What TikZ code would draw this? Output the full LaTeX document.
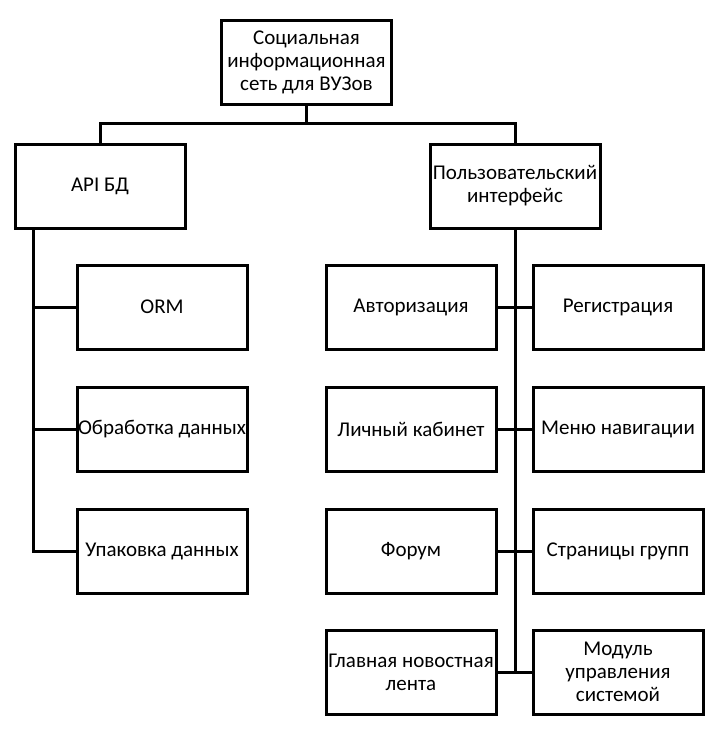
\documentclass[tikz,border=0pt]{standalone}
\usepackage{fontspec}
\setmainfont{Carlito}
\begin{document}
\begin{tikzpicture}[x=1pt,y=-1pt,
  box/.style={draw=black,line width=3pt,minimum width=170pt,minimum height=84pt,inner sep=0pt,align=center,font=\fontsize{21}{23}\selectfont},
  conn/.style={draw=black,line width=3pt}]
\useasboundingbox (0,0) rectangle (721,740);
\node[box] (top) at (306.5,62) {Социальная\\информационная\\сеть для ВУЗов};
\node[box] (api) at (100,186) {API БД};
\node[box] (ui) at (515,186) {Пользовательский\\интерфейс};
\node[box] (orm) at (162,307) {ORM};
\node[box] (obr) at (162,429) {Обработка данных};
\node[box] (upak) at (162,551) {Упаковка данных};
\node[box] (avt) at (411,307) {Авторизация};
\node[box] (reg) at (618,307) {Регистрация};
\node[box] (lk) at (411,429) {Личный кабинет};
\node[box] (menu) at (618,429) {Меню навигации};
\node[box] (forum) at (411,551) {Форум};
\node[box] (str) at (618,551) {Страницы групп};
\node[box] (glav) at (411,672) {Главная новостная\\лента};
\node[box] (mod) at (618,672) {Модуль\\управления\\системой};
\coordinate (bus) at (306.5,123);
\coordinate (tl) at (33,0);
\draw[conn] (top.south) -- (bus);
\draw[conn] (api.north) |- (bus) -| (ui.north);
\draw[conn] (api.south -| tl) |- (upak.west);
\draw[conn] (tl |- orm) -- (orm.west);
\draw[conn] (tl |- obr) -- (obr.west);
\draw[conn] (ui.south) -- (ui.south |- glav);
\draw[conn] (avt.east) -- (reg.west);
\draw[conn] (lk.east) -- (menu.west);
\draw[conn] (forum.east) -- (str.west);
\draw[conn] (glav.east) -- (mod.west);
\end{tikzpicture}
\end{document}
